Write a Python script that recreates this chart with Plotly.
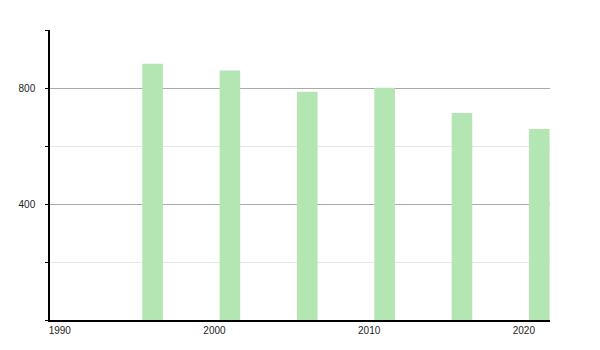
import plotly.graph_objects as go

years = [1996, 2001, 2006, 2011, 2016, 2021]
values = [884, 860, 787, 801, 714, 659]
x_ticks = [1990, 2000, 2010, 2020]
y_ticks = [400, 800]

fig = go.Figure(go.Bar(
    x=years, y=values, width=1.33,
    marker=dict(color="#b3e6b3", line=dict(width=0)),
    hoverinfo="x+y",
))

fig.update_layout(
    width=600, height=350,
    margin=dict(l=50, r=50, t=30, b=30),
    plot_bgcolor="white", paper_bgcolor="white",
    showlegend=False,
    font=dict(family="Liberation Sans, Arial, sans-serif", size=10, color="#222"),
)
fig.update_xaxes(
    range=[1989.37, 2021.69],
    tickvals=x_ticks, ticktext=[str(v) for v in x_ticks],
    showgrid=False, zeroline=False,
    showline=True, linecolor="black", linewidth=1.5,
    ticks="", ticklabelstandoff=0,
)
fig.update_yaxes(
    range=[0, 1000],
    tickvals=[0] + y_ticks, ticktext=["", "400", "800"],
    showgrid=True, gridcolor="#aaaaaa", gridwidth=1,
    zeroline=False,
    showline=True, linecolor="black", linewidth=1.5,
    ticks="outside", ticklen=3, tickcolor="black",
    ticklabelstandoff=8,
    minor=dict(tickvals=[200, 600, 1000], showgrid=True, gridcolor="#e6e6e6",
               ticks="outside", ticklen=3, tickcolor="black"),
)

fig.write_html("out.html")
